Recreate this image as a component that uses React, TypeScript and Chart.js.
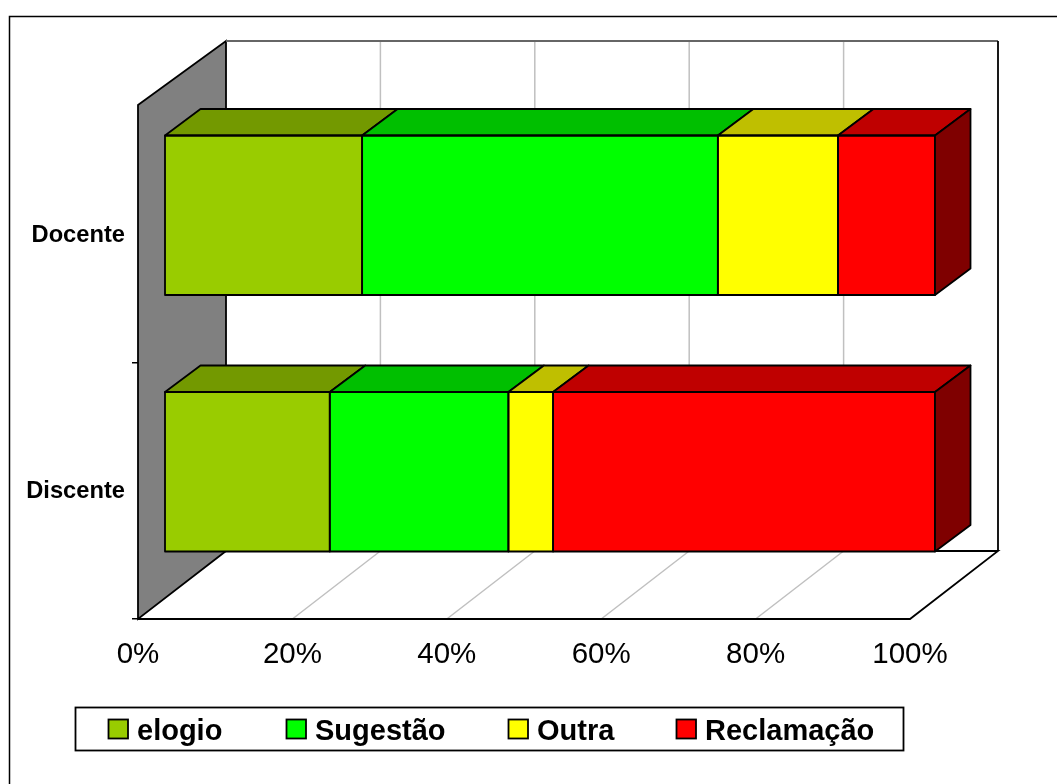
import React, { useEffect, useRef } from "react";
import { Chart, registerables } from "chart.js";

Chart.register(...registerables);

const categories = ["Docente", "Discente"];
const seriesNames = ["elogio", "Sugestão", "Outra", "Reclamação"];
const elogio = [25.6, 21.4];
const sugestao = [46.2, 23.2];
const outra = [15.6, 5.8];
const reclamacao = [12.6, 49.6];
const frontColors = ["#99CC00", "#00FF00", "#FFFF00", "#FF0000"];
const topColors = ["#739900", "#00BF00", "#BFBF00", "#BF0000"];
const sideColor = "#7F0000";
const xTicks = [0, 20, 40, 60, 80, 100];

const FONT = '"Liberation Sans", Arial, sans-serif';
const wallDx = 88;
const wallDy = 68;
const barDx = 35.5;
const barDy = 26.5;
const LINE = 1.8;

const scene = {
  id: "scene3d",
  beforeDraw(chart: any) {
    const { ctx } = chart;
    ctx.save();
    ctx.fillStyle = "#fff";
    ctx.fillRect(0, 0, chart.width, chart.height);
    ctx.strokeStyle = "#000";
    ctx.lineWidth = 1.5;
    ctx.beginPath();
    ctx.moveTo(9.5, 800);
    ctx.lineTo(9.5, 16.5);
    ctx.lineTo(1070, 16.5);
    ctx.stroke();
    ctx.restore();
  },
  beforeDatasetsDraw(chart: any) {
    const { ctx, chartArea: a, scales } = chart;
    const L = a.left, R = a.right, T = a.top - 1, B = a.bottom;
    const wallTop = T - 64;
    ctx.save();
    // side wall
    ctx.fillStyle = "#808080";
    ctx.strokeStyle = "#000";
    ctx.lineWidth = LINE;
    ctx.beginPath();
    ctx.moveTo(L, T);
    ctx.lineTo(L + wallDx, wallTop);
    ctx.lineTo(L + wallDx, B - wallDy);
    ctx.lineTo(L, B);
    ctx.closePath();
    ctx.fill();
    ctx.stroke();
    // grid lines on floor and back wall
    ctx.strokeStyle = "#C0C0C0";
    ctx.lineWidth = 1.5;
    for (const v of xTicks.slice(1, -1)) {
      const x = scales.x.getPixelForValue(v);
      ctx.beginPath();
      ctx.moveTo(x, B);
      ctx.lineTo(x + wallDx, B - wallDy);
      ctx.lineTo(x + wallDx, wallTop);
      ctx.stroke();
    }
    // back wall top
    ctx.strokeStyle = "#666";
    ctx.lineWidth = 2;
    ctx.beginPath();
    ctx.moveTo(L + wallDx, wallTop);
    ctx.lineTo(R + wallDx, wallTop);
    ctx.stroke();
    // floor + back wall outline
    ctx.strokeStyle = "#000";
    ctx.lineWidth = LINE;
    ctx.beginPath();
    ctx.moveTo(L, B);
    ctx.lineTo(R, B);
    ctx.lineTo(R + wallDx, B - wallDy);
    ctx.lineTo(L + wallDx, B - wallDy);
    ctx.moveTo(R + wallDx, B - wallDy);
    ctx.lineTo(R + wallDx, wallTop);
    ctx.stroke();
    ctx.restore();

    // bars stand in the middle of the floor's depth
    ctx.save();
    ctx.translate(L + 27, 0);
    ctx.scale(770 / (R - L), 1);
    ctx.translate(-L, -19);
  },
  afterDatasetsDraw(chart: any) {
    const { ctx } = chart;
    const n = chart.data.datasets.length;
    const sx = ctx.getTransform().a;
    ctx.lineJoin = "round";
    ctx.strokeStyle = "#000";
    ctx.lineWidth = LINE;
    const dx = barDx / sx;
    for (let d = 0; d < n; d++) {
      const bars = chart.getDatasetMeta(d).data;
      bars.forEach((b: any) => {
        const top = b.y - b.height / 2;
        const bot = b.y + b.height / 2;
        ctx.fillStyle = topColors[d];
        ctx.beginPath();
        ctx.moveTo(b.base, top);
        ctx.lineTo(b.base + dx, top - barDy);
        ctx.lineTo(b.x + dx, top - barDy);
        ctx.lineTo(b.x, top);
        ctx.closePath();
        ctx.fill();
        ctx.stroke();
        ctx.strokeRect(b.base, top, b.x - b.base, bot - top);
        if (d === n - 1) {
          ctx.fillStyle = sideColor;
          ctx.beginPath();
          ctx.moveTo(b.x, top);
          ctx.lineTo(b.x + dx, top - barDy);
          ctx.lineTo(b.x + dx, bot - barDy);
          ctx.lineTo(b.x, bot);
          ctx.closePath();
          ctx.fill();
          ctx.stroke();
        }
      });
    }
    ctx.restore();
  },
  afterDraw(chart: any) {
    const { ctx } = chart;
    const box = { left: 75.5, top: 707.5, right: 903.5, bottom: 750.5 };
    const swatchX = [108.5, 286.5, 508.5, 676.5];
    ctx.save();
    ctx.fillStyle = "#fff";
    ctx.strokeStyle = "#000";
    ctx.lineWidth = LINE;
    ctx.fillRect(box.left, box.top, box.right - box.left, box.bottom - box.top);
    ctx.strokeRect(box.left, box.top, box.right - box.left, box.bottom - box.top);
    ctx.font = `bold 29px ${FONT}`;
    ctx.textBaseline = "middle";
    chart.data.datasets.forEach((ds: any, i: number) => {
      ctx.fillStyle = ds.backgroundColor;
      ctx.fillRect(swatchX[i], 719.5, 19.5, 19);
      ctx.strokeRect(swatchX[i], 719.5, 19.5, 19);
      ctx.fillStyle = "#000";
      ctx.fillText(ds.label, swatchX[i] + 28.5, 731.5);
    });
    ctx.restore();
  },
};

export default function App() {
  const ref = useRef<HTMLCanvasElement>(null);
  useEffect(() => {
    const values = [elogio, sugestao, outra, reclamacao];
    const chart = new Chart(ref.current as HTMLCanvasElement, {
      type: "bar",
      data: {
        labels: categories,
        datasets: seriesNames.map((label, i) => ({
          label,
          data: values[i],
          backgroundColor: frontColors[i],
          borderWidth: 0,
          categoryPercentage: 0.622,
          barPercentage: 1,
          clip: false as any,
        })),
      },
      options: {
        indexAxis: "y",
        responsive: false,
        animation: false,
        devicePixelRatio: 1,
        layout: { padding: { left: 8, right: 147, top: 106, bottom: 105 } },
        plugins: { legend: { display: false }, tooltip: { enabled: false }, title: { display: false } },
        scales: {
          x: {
            stacked: true,
            min: 0,
            max: 100,
            afterFit: (s: any) => { s.height = 60; },
            afterBuildTicks: (s: any) => { s.ticks = xTicks.map((value) => ({ value })); },
            border: { display: false },
            grid: { display: false, drawTicks: false },
            ticks: {
              padding: 18,
              maxRotation: 0,
              autoSkip: false,
              color: "#000",
              font: { family: FONT, size: 29.5 },
              callback: (v: any) => `${v}%`,
            },
          },
          y: {
            stacked: true,
            afterFit: (s: any) => { s.width = 130; },
            border: { display: false },
            grid: {
              offset: true,
              drawOnChartArea: false,
              drawTicks: true,
              tickLength: 6,
              lineWidth: 1.5,
              color: (c: any) => (c.index === 0 ? "rgba(0,0,0,0)" : "#000"),
            },
            ticks: {
              padding: 7,
              labelOffset: 1,
              color: "#000",
              font: { family: FONT, size: 23.7, weight: "bold" },
            },
          },
        },
      },
      plugins: [scene],
    });
    return () => chart.destroy();
  }, []);
  return (
    <canvas
      ref={ref}
      width={1057}
      height={784}
      style={{ position: "absolute", left: 0, top: 0, width: 1057, height: 784 }}
    />
  );
}
